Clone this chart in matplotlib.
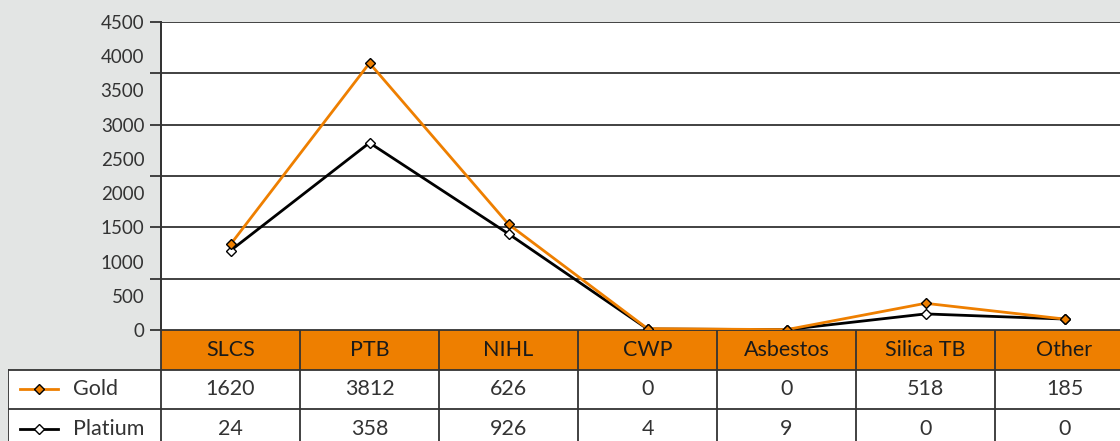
import matplotlib
matplotlib.use("Agg")
import matplotlib.pyplot as plt
from matplotlib.patches import Rectangle
import numpy as np

categories = ["SLCS", "PTB", "NIHL", "CWP", "Asbestos", "Silica TB", "Other"]
gold_line = [1250, 3900, 1545, 20, 5, 390, 160]
platinum_line = [1160, 2735, 1405, 15, 5, 235, 160]
gold_table = ["1620", "3812", "626", "0", "0", "518", "185"]
platinum_table = ["24", "358", "926", "4", "9", "0", "0"]
series_names = ["Gold", "Platium"]
grid_ticks = [0, 750, 1500, 2250, 3000, 3750, 4500]
label_ticks = [0, 500, 1000, 1500, 2000, 2500, 3000, 3500, 4000, 4500]

ORANGE = "#EE7F00"
BG = "#E3E5E4"
DARK = "#333333"
TXT = "#333333"

plt.rcParams["font.family"] = ["Lato", "DejaVu Sans"]
FS = 13.5
FS_T = 15.5
FW = "normal"

W, H = 1120, 441
fig = plt.figure(figsize=(W / 100, H / 100), dpi=100, facecolor=BG)

# main plot axes
x0, x1 = 161, 1134
ytop, ybot = 22, 330
ax = fig.add_axes([x0 / W, (H - ybot) / H, (x1 - x0) / W, (ybot - ytop) / H])
ax.set_facecolor("white")
n = len(categories)
xs = np.arange(n)
ax.set_xlim(-0.5, n - 0.5)
ax.set_ylim(0, 4500)

for g in grid_ticks:
    ax.axhline(g, color=DARK, lw=1.3, zorder=1)

ax.plot(xs, platinum_line, color="black", lw=2.0, marker="D", ms=5.5,
        mfc="white", mec="black", mew=1.0, zorder=3, clip_on=False)
ax.plot(xs, gold_line, color=ORANGE, lw=2.0, marker="D", ms=5.5,
        mfc=ORANGE, mec="black", mew=1.0, zorder=4, clip_on=False)

for s in ["top", "right", "bottom"]:
    ax.spines[s].set_visible(False)
ax.spines["left"].set_color(DARK)
ax.spines["left"].set_linewidth(1.3)
ax.set_xticks([])
# labels every 500, no tick marks
ax.set_yticks(label_ticks)
ax.set_yticklabels([str(v) for v in label_ticks])
ax.tick_params(axis="y", which="major", length=0, pad=12, labelsize=FS,
               labelcolor=TXT)
for t in ax.get_yticklabels():
    t.set_fontweight(FW)
# tick marks at gridlines (every 750), no labels
sec = ax.secondary_yaxis("left")
sec.set_yticks(grid_ticks)
sec.set_yticklabels([])
sec.tick_params(axis="y", length=8, width=1.3, color=DARK, direction="out")
sec.spines["left"].set_color(DARK)
sec.spines["left"].set_linewidth(1.3)

# data table axes (below the plot)
row_h = 39.6
tleft = 8
label_w = (x0 - tleft) / ((x1 - x0) / n)
tb = ybot + 3 * row_h
tax = fig.add_axes([tleft / W, (H - tb) / H, (x1 - tleft) / W, (tb - ybot) / H])
tax.set_xlim(-0.5 - label_w, n - 0.5)
tax.set_ylim(3, 0)
tax.axis("off")
tax.patch.set_alpha(0)

# header row
tax.add_patch(Rectangle((-0.5, 0), n, 1, facecolor=ORANGE, edgecolor="none"))
for i, c in enumerate(categories):
    tax.text(i, 0.5, c, ha="center", va="center", fontsize=FS_T, color="#1a1a1a",
             fontweight=FW)
# body rows
tax.add_patch(Rectangle((-0.5 - label_w, 1), n + label_w, 2, facecolor="white",
                        edgecolor="none"))
lw = 1.3
tax.plot([-0.5, n - 0.5], [0, 0], color=DARK, lw=lw)
for yy in [1, 2, 3]:
    tax.plot([-0.5 - label_w, n - 0.5], [yy, yy], color=DARK, lw=lw)
tax.plot([-0.5 - label_w, -0.5 - label_w], [1, 3], color=DARK, lw=lw)
for i in range(n + 1):
    tax.plot([i - 0.5, i - 0.5], [0, 3], color=DARK, lw=lw)

tables = [gold_table, platinum_table]
styles = [dict(color=ORANGE, mfc=ORANGE), dict(color="black", mfc="white")]
for r, (vals, name, st) in enumerate(zip(tables, series_names, styles)):
    yy = 1.5 + r
    for i, v in enumerate(vals):
        tax.text(i, yy, v, ha="center", va="center", fontsize=FS_T, color=TXT,
                 fontweight=FW)
    lx0 = -0.5 - label_w + 12 / 139
    lx1 = lx0 + 38 / 139
    tax.plot([lx0, lx1], [yy, yy], color=st["color"], lw=2.0)
    tax.plot([(lx0 + lx1) / 2], [yy], marker="D", ms=5.5, mfc=st["mfc"],
             mec="black", mew=1.0, color=st["color"])
    tax.text(lx1 + 15 / 139, yy, name, ha="left", va="center", fontsize=FS_T,
             color=TXT, fontweight=FW)

fig.savefig("out.png", dpi=100, facecolor=BG)
